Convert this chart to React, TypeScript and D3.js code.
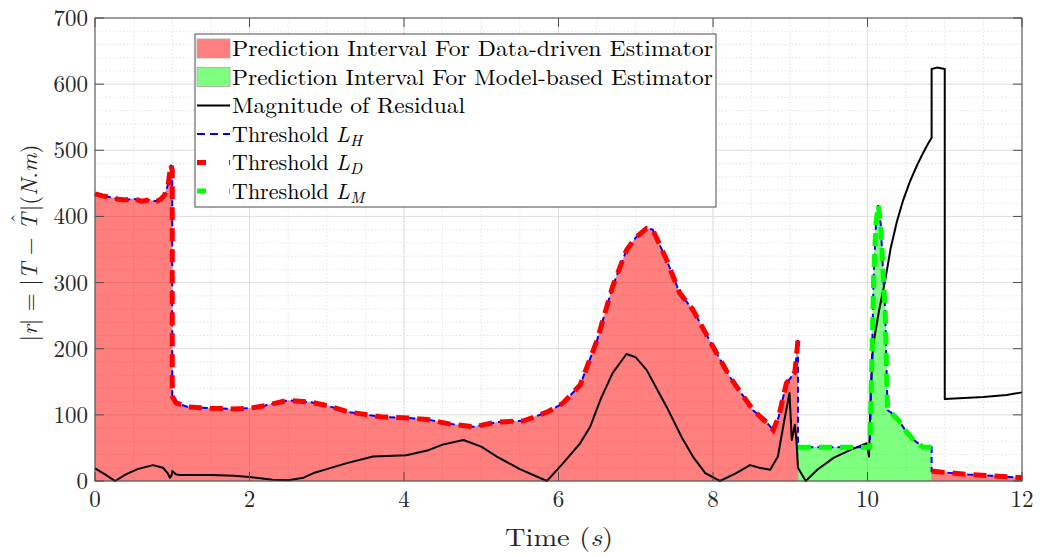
import React from "react";
import * as d3 from "d3";

// ---- data ----
const ldT1 = [0, 0.1, 0.2, 0.3, 0.4, 0.5, 0.6, 0.7, 0.8, 0.85, 0.9, 0.95, 0.98, 1.0, 1.0, 1.05, 1.2, 1.5, 1.8, 2.0, 2.2, 2.5, 2.8, 3.0, 3.3, 3.7, 4.1, 4.3, 4.6, 4.9, 5.2, 5.55, 5.85, 6.05, 6.28, 6.5, 6.7, 6.88, 7.0, 7.14, 7.22, 7.4, 7.57, 7.74, 8.0, 8.22, 8.52, 8.7, 8.78, 8.85, 8.95, 9.0, 9.06, 9.1];
const ldV1 = [434, 431, 429, 426, 425, 427, 423, 425, 423, 426, 432, 450, 478, 470, 128, 118, 112, 110, 109, 110, 114, 122, 119, 114, 104, 97, 95, 93, 86, 82, 89, 91, 104, 117, 145, 213, 294, 349, 368, 382, 380, 334, 284, 259, 203, 157, 107, 88, 77, 97, 148, 155, 165, 213];
const lmT = [9.1, 10.0, 10.03, 10.06, 10.08, 10.11, 10.14, 10.17, 10.2, 10.23, 10.25, 10.26, 10.3, 10.4, 10.5, 10.6, 10.72, 10.83];
const lmV = [51, 51, 51, 200, 310, 390, 417, 390, 320, 254, 150, 107, 104, 92, 75, 62, 51, 51];
const ldT2 = [10.83, 11.0, 11.3, 11.6, 12.0];
const ldV2 = [15, 13, 10, 8, 5];
const resT = [0, 0.13, 0.26, 0.4, 0.55, 0.75, 0.88, 0.94, 0.97, 0.99, 1.0, 1.05, 1.1, 1.5, 1.8, 2.0, 2.3, 2.5, 2.7, 2.83, 3.0, 3.26, 3.6, 4.03, 4.3, 4.5, 4.77, 5.0, 5.2, 5.5, 5.85, 6.06, 6.28, 6.41, 6.55, 6.7, 6.88, 7.0, 7.14, 7.4, 7.6, 7.74, 7.9, 8.09, 8.3, 8.48, 8.6, 8.74, 8.84, 8.92, 8.99, 9.02, 9.06, 9.08, 9.1, 9.2, 9.35, 9.56, 9.78, 9.99, 10.02, 10.04, 10.07, 10.15, 10.23, 10.3, 10.38, 10.46, 10.55, 10.64, 10.72, 10.78, 10.83, 10.83, 10.9, 11.0, 11.0, 11.5, 11.8, 12.0];
const resV = [19, 10, 0, 10, 18, 24, 20, 12, 5, 8, 15, 10, 9, 9, 8, 6, 2, 1, 5, 12, 18, 27, 37, 39, 46, 55, 62, 52, 37, 18, 0, 27, 57, 82, 125, 163, 192, 187, 168, 112, 65, 37, 12, 0, 12, 24, 20, 17, 37, 90, 133, 62, 85, 62, 20, 0, 17, 35, 47, 57, 37, 130, 203, 258, 304, 352, 392, 424, 453, 477, 496, 509, 519, 623, 625, 623, 124, 127, 130, 134];
const xTicks = [0, 2, 4, 6, 8, 10, 12];
const yTicks = [0, 100, 200, 300, 400, 500, 600, 700];
const legendLabels = [
  "Prediction Interval For Data-driven Estimator",
  "Prediction Interval For Model-based Estimator",
  "Magnitude of Residual",
];

type P = [number, number];
const zip = (t: number[], v: number[]): P[] => t.map((x, i) => [x, v[i]]);

const W = 1043, H = 557;
const L = 95, R = 1022, T = 18, B = 481;
const FONT = "'Latin Modern Roman','CMU Serif','Liberation Serif',serif";

export default function App() {
  const x = d3.scaleLinear().domain([0, 12]).range([L, R]);
  const y = d3.scaleLinear().domain([0, 700]).range([B, T]);
  const line = d3.line<P>().x((d) => x(d[0])).y((d) => y(d[1]));
  const area = d3.area<P>().x((d) => x(d[0])).y0(y(0)).y1((d) => y(d[1]));

  const ld1 = zip(ldT1, ldV1);
  const lm = zip(lmT, lmV);
  const ld2 = zip(ldT2, ldV2);
  const lh = [...ld1, ...lm, ...ld2];
  const res = zip(resT, resV);

  const minorX = d3.range(0, 12.001, 0.5);
  const minorY = d3.range(0, 700.001, 20);

  const rowY = [48.5, 77, 105.5, 134, 162.5, 191];
  const lx0 = 197, lx1 = 230, tx = 232;

  return (
    <svg width={W} height={H} style={{ position: "absolute", left: 0, top: 0, background: "#fff" }} fontFamily={FONT}>
      <rect x={0} y={0} width={W} height={H} fill="#fff" />
      {/* grid */}
      {minorX.map((v) => (
        <line key={"mx" + v} x1={x(v)} x2={x(v)} y1={T} y2={B} stroke="#e4e4e4" strokeWidth={1} strokeDasharray="1.5,2" />
      ))}
      {minorY.map((v) => (
        <line key={"my" + v} x1={L} x2={R} y1={y(v)} y2={y(v)} stroke="#e4e4e4" strokeWidth={1} strokeDasharray="1.5,2" />
      ))}
      {xTicks.map((v) => (
        <line key={"gx" + v} x1={x(v)} x2={x(v)} y1={T} y2={B} stroke="#e0e0e0" strokeWidth={1} />
      ))}
      {yTicks.map((v) => (
        <line key={"gy" + v} x1={L} x2={R} y1={y(v)} y2={y(v)} stroke="#e0e0e0" strokeWidth={1} />
      ))}
      {/* fills */}
      <path d={area(ld1) ?? ""} fill="#ff0000" fillOpacity={0.5} stroke="#aaaaaa" strokeOpacity={0.6} strokeWidth={0.8} />
      <path d={area(ld2) ?? ""} fill="#ff0000" fillOpacity={0.5} stroke="#aaaaaa" strokeOpacity={0.6} strokeWidth={0.8} />
      <path d={area(lm) ?? ""} fill="#00ff00" fillOpacity={0.5} stroke="#aaaaaa" strokeOpacity={0.6} strokeWidth={0.8} />
      {/* residual */}
      <path d={line(res) ?? ""} fill="none" stroke="#000" strokeWidth={2} strokeLinejoin="round" />
      {/* thresholds */}
      <path d={line(lh) ?? ""} fill="none" stroke="#0000ff" strokeWidth={2} strokeDasharray="6,4" />
      <path d={line(ld1) ?? ""} fill="none" stroke="#ff0000" strokeWidth={5} strokeDasharray="13,8" />
      <path d={line(ld2) ?? ""} fill="none" stroke="#ff0000" strokeWidth={5} strokeDasharray="13,8" />
      <path d={line(lm) ?? ""} fill="none" stroke="#00ff00" strokeWidth={5} strokeDasharray="13,8" />
      {/* axes box & ticks */}
      <rect x={L} y={T} width={R - L} height={B - T} fill="none" stroke="#4d4d4d" strokeWidth={1} />
      {xTicks.map((v) => (
        <g key={"tx" + v}>
          <line x1={x(v)} x2={x(v)} y1={B} y2={B - 9} stroke="#4d4d4d" />
          <line x1={x(v)} x2={x(v)} y1={T} y2={T + 9} stroke="#4d4d4d" />
          <text x={x(v)} y={507} textAnchor="middle" fontSize={23} fill="#262626">{v}</text>
        </g>
      ))}
      {yTicks.map((v) => (
        <g key={"ty" + v}>
          <line x1={L} x2={L + 9} y1={y(v)} y2={y(v)} stroke="#4d4d4d" />
          <line x1={R} x2={R - 9} y1={y(v)} y2={y(v)} stroke="#4d4d4d" />
          <text x={88} y={y(v) + 8} textAnchor="end" fontSize={23} fill="#262626">{v}</text>
        </g>
      ))}
      {/* axis labels */}
      <text x={559} y={546} textAnchor="middle" fontSize={25} fill="#262626" textLength={108} lengthAdjust="spacingAndGlyphs">
        Time (<tspan fontStyle="italic">s</tspan>)
      </text>
      <text transform="translate(37,243) rotate(-90)" textAnchor="middle" fontSize={23} fill="#262626">
        |<tspan fontStyle="italic">r</tspan>| = |<tspan fontStyle="italic">T</tspan> − <tspan fontStyle="italic">T</tspan><tspan dx={-10} dy={-12} fontSize={20}>ˆ</tspan><tspan dx={2} dy={12}>|(</tspan><tspan fontStyle="italic">N</tspan>.<tspan fontStyle="italic">m</tspan>)
      </text>
      {/* legend */}
      <rect x={195} y={34} width={521} height={173} fill="#fff" stroke="#4d4d4d" strokeWidth={1} />
      <rect x={lx0} y={rowY[0] - 9.5} width={lx1 - lx0} height={19} fill="#ff0000" fillOpacity={0.5} stroke="#aaa" strokeWidth={0.8} />
      <rect x={lx0} y={rowY[1] - 9.5} width={lx1 - lx0} height={19} fill="#00ff00" fillOpacity={0.5} stroke="#aaa" strokeWidth={0.8} />
      <line x1={lx0} x2={lx1} y1={rowY[2]} y2={rowY[2]} stroke="#000" strokeWidth={2} />
      <line x1={lx0} x2={lx1} y1={rowY[3]} y2={rowY[3]} stroke="#0000ff" strokeWidth={2} strokeDasharray="8,5" />
      <line x1={lx0} x2={lx1} y1={rowY[4]} y2={rowY[4]} stroke="#ff0000" strokeWidth={5} strokeDasharray="9,23" />
      <line x1={lx0} x2={lx1} y1={rowY[5]} y2={rowY[5]} stroke="#00ff00" strokeWidth={5} strokeDasharray="9,23" />
      <text x={tx} y={rowY[0] + 7.5} fontSize={22} fill="#000" textLength={481} lengthAdjust="spacingAndGlyphs">{legendLabels[0]}</text>
      <text x={tx} y={rowY[1] + 7.5} fontSize={22} fill="#000" textLength={481} lengthAdjust="spacingAndGlyphs">{legendLabels[1]}</text>
      <text x={tx} y={rowY[2] + 7.5} fontSize={22} fill="#000" textLength={233} lengthAdjust="spacingAndGlyphs">{legendLabels[2]}</text>
      {[["H", 3], ["D", 4], ["M", 5]].map(([s, i]) => (
        <text key={s as string} x={tx} y={rowY[i as number] + 7.5} fontSize={22} fill="#000">
          Threshold <tspan fontStyle="italic">L</tspan><tspan fontStyle="italic" fontSize={16} dy={4}>{s}</tspan>
        </text>
      ))}
    </svg>
  );
}
